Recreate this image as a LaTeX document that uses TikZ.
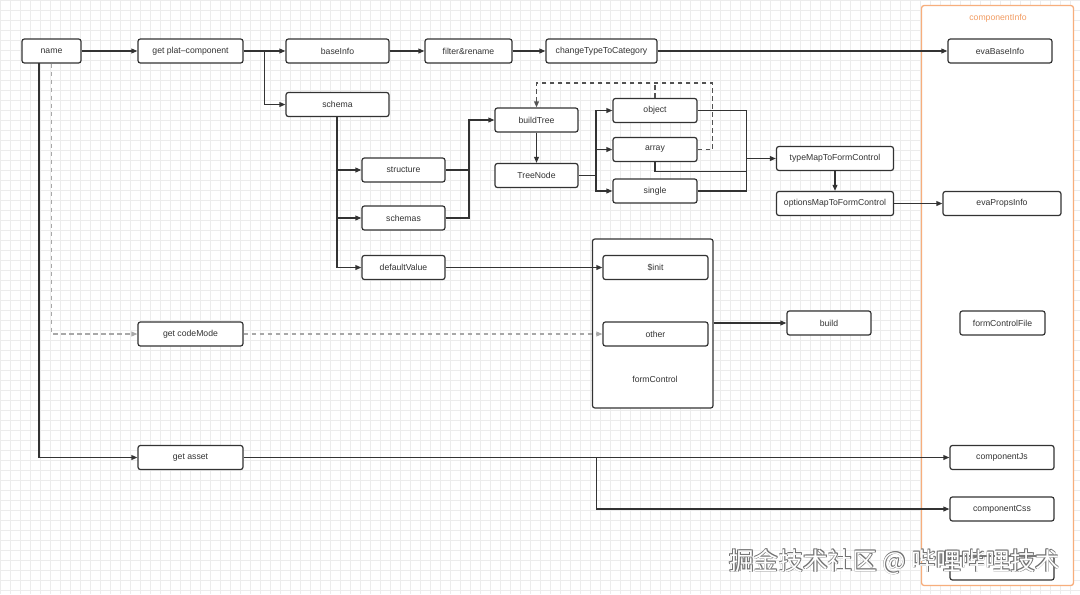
\documentclass[tikz,border=0pt]{standalone}
\usepackage{fontspec}
\setmainfont{Liberation Sans}
\newfontfamily\cjkfont{Noto Sans CJK SC}
\usetikzlibrary{arrows.meta,calc}
\definecolor{ln}{HTML}{333333}
\definecolor{org}{HTML}{F7AE7C}
\definecolor{orgtxt}{HTML}{F29C62}
\definecolor{gridc}{HTML}{ECECEC}
\definecolor{gdash}{HTML}{A8A8A8}
\tikzset{
  box/.style={draw=ln, line width=0.9pt, rounded corners=1.8pt, fill=white, text=ln,
    minimum height=18pt, inner sep=0pt, font=\fontsize{6.5}{7.5}\selectfont},
  conn/.style={draw=ln, line width=0.9pt},
  arr/.style={conn, -{Triangle[length=4.5pt,width=3.6pt]}},
  dloop/.style={draw=ln!85, line width=0.9pt, dash pattern=on 3.5pt off 2.5pt},
  gline/.style={draw=gdash, line width=0.8pt, dash pattern=on 3.5pt off 2.5pt, -{Triangle[length=4.5pt,width=3.6pt]}},
  lbl/.style={text=ln, inner sep=0pt, font=\fontsize{6.5}{7.5}\selectfont},
}
\begin{document}
\begin{tikzpicture}[x=0.75pt,y=-0.75pt]
\useasboundingbox (0,0) rectangle (1080,594);
\fill[white] (0,0) rectangle (1080,594);
\foreach \i in {0,10,...,1080} \draw[gridc, line width=0.35pt] (\i,0) -- (\i,594);
\foreach \j in {0,10,...,590} \draw[gridc, line width=0.35pt] (0,\j) -- (1080,\j);

% containers
\node[draw=org, line width=1pt, rounded corners=2pt, fill=white, minimum width=114pt, minimum height=435pt, inner sep=0pt] (ci) at (997.5,295.5) {};
\node[text=orgtxt, inner sep=0pt, font=\fontsize{6.5}{7.5}\selectfont] (cilabel) at (998,18.7) {componentInfo};
\node[draw=ln, line width=0.9pt, rounded corners=1.8pt, fill=white, minimum width=90.4pt, minimum height=126.75pt, inner sep=0pt] (fc) at (652.75,323.5) {};
\node[lbl] (fclabel) at (655,379) {formControl};

% nodes
\node[box, minimum width=44.25pt] (name) at (51.5,51) {name};
\node[box, minimum width=78.75pt] (gpc) at (190.5,51) {get plat–component};
\node[box, minimum width=77.25pt] (base) at (337.5,51) {baseInfo};
\node[box, minimum width=77.25pt] (schema) at (337.5,104.5) {schema};
\node[box, minimum width=65.25pt] (filter) at (468.5,51) {filter\&rename};
\node[box, minimum width=83.25pt] (ctc) at (601.5,51) {changeTypeToCategory};
\node[box, minimum width=78pt] (eba) at (1000,51) {evaBaseInfo};
\node[box, minimum width=62.25pt] (structure) at (403.5,170) {structure};
\node[box, minimum width=62.25pt] (schemas) at (403.5,218) {schemas};
\node[box, minimum width=62.25pt] (dv) at (403.5,267.5) {defaultValue};
\node[box, minimum width=62.25pt] (bt) at (536.5,120) {buildTree};
\node[box, minimum width=62.25pt] (tn) at (536.5,175.5) {TreeNode};
\node[box, minimum width=63pt] (obj) at (655,110.5) {object};
\node[box, minimum width=63pt] (arrn) at (655,149.5) {array};
\node[box, minimum width=63pt] (sgl) at (655,191) {single};
\node[box, minimum width=87.75pt] (tm) at (835,158.5) {typeMapToFormControl};
\node[box, minimum width=87.75pt] (om) at (835,203.5) {optionsMapToFormControl};
\node[box, minimum width=88.5pt] (epi) at (1002,203.5) {evaPropsInfo};
\node[box, minimum width=78.75pt] (init) at (655.5,267.5) {\$init};
\node[box, minimum width=78.75pt] (other) at (655.5,334) {other};
\node[box, minimum width=63pt] (build) at (829,323) {build};
\node[box, minimum width=78.75pt] (gcm) at (190.5,334) {get codeMode};
\node[box, minimum width=78.75pt] (ga) at (190.5,457.5) {get asset};
\node[box, minimum width=63.75pt] (fcf) at (1002.5,323) {formControlFile};
\node[box, minimum width=78pt] (cjs) at (1002,457.5) {componentJs};
\node[box, minimum width=78pt] (ccss) at (1002,509) {componentCss};
\node[box, minimum width=78pt] (hid) at (1002,568) {};

% junction coordinates
\coordinate (j1) at (264.3,51);
\coordinate (j2) at (469,120);
\coordinate (j3) at (596,175.5);
\coordinate (d1) at (712.7,83);
\coordinate (j4) at (746.7,158.5);
\coordinate (j5) at (746.7,171.7);
\coordinate (j7) at (39,63);
\coordinate (j8) at (596.7,457.5);
\coordinate (sx) at (337,0);

% connectors
\draw[arr] (name) -- (gpc);
\draw[arr] (gpc) -- (base);
\draw[arr] (j1) |- (schema.west);
\draw[arr] (base) -- (filter);
\draw[arr] (filter) -- (ctc);
\draw[arr] (ctc) -- (eba);
\draw[arr] (schema.south -| sx) |- (dv.west);
\draw[arr] (sx |- structure.west) -- (structure.west);
\draw[arr] (sx |- schemas.west) -- (schemas.west);
\draw[conn] (structure.east) -| (j2);
\draw[arr] (schemas.east) -| (j2) -- (bt.west);
\draw[arr] (bt) -- (tn);
\draw[conn] (tn.east) -- (j3);
\draw[arr] (j3) |- (obj.west);
\draw[arr] (j3) |- (arrn.west);
\draw[arr] (j3) |- (sgl.west);
\draw[dloop, -{Triangle[length=4.5pt,width=3.6pt]}] (arrn.east) -| (d1) -| (bt.north);
\draw[dloop] (obj.north) -- (obj.north |- d1);
\draw[conn] (obj.east) -- (obj.east -| j4) -- (sgl.east -| j4) -- (sgl.east);
\draw[conn] (arrn.south) |- (j5);
\draw[arr] (j4) -- (tm.west);
\draw[arr] (tm) -- (om);
\draw[arr] (om) -- (epi);
\draw[arr] (dv) -- (init);
\draw[arr] (fc.east |- build.west) -- (build.west);
\draw[gline] (name.south) |- (gcm.west);
\draw[gline] (gcm) -- (other);
\draw[arr] (j7) |- (ga.west);
\draw[arr] (ga) -- (cjs);
\draw[arr] (j8) |- (ccss.west);

% watermark
\foreach \dx/\dy in {0.7/0.7,-0.5/-0.5,0.7/-0.5,-0.5/0.7}
  \node[text=black!55, font=\cjkfont\fontsize{18.5}{20}\selectfont, inner sep=0pt] at ($(894.5,561.7)+(\dx,\dy)$) {掘金技术社区 @ 哔哩哔哩技术};
\node[text=white, font=\cjkfont\fontsize{18.5}{20}\selectfont, inner sep=0pt] (wm) at (894.5,561.7) {掘金技术社区 @ 哔哩哔哩技术};
\end{tikzpicture}
\end{document}
